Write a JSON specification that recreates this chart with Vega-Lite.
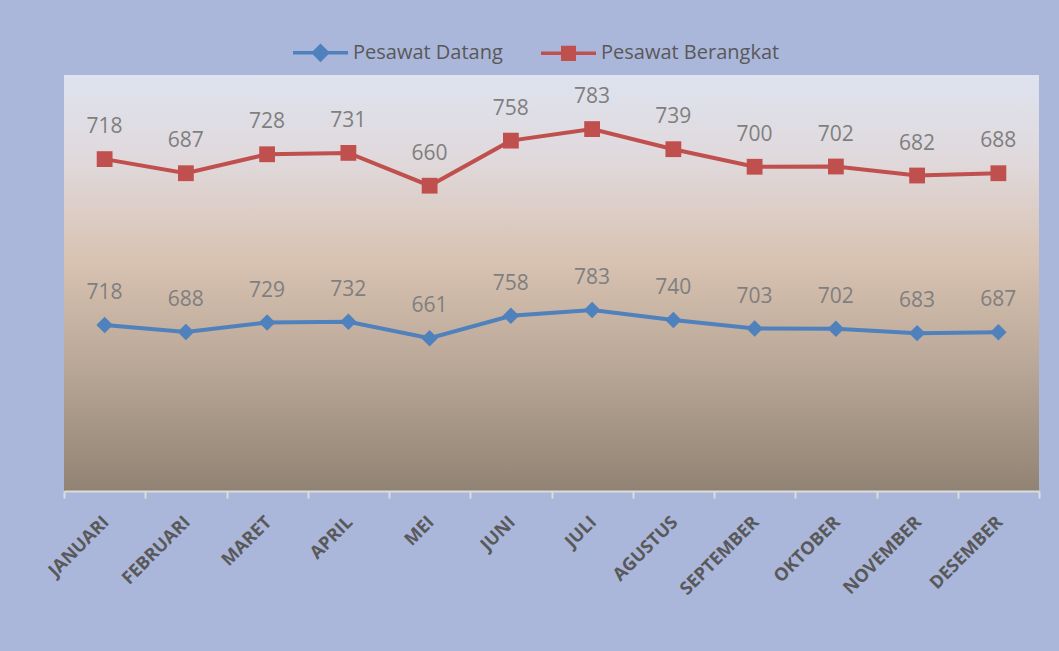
{
  "$schema": "https://vega.github.io/schema/vega-lite/v6.json",
  "autosize": {"type": "none"},
  "width": 975,
  "height": 416,
  "padding": {"left": 64, "top": 75, "right": 21, "bottom": 160},
  "background": "#abb6db",
  "config": {
    "view": {
      "stroke": null,
      "fill": {
        "gradient": "linear", "x1": 0, "y1": 0, "x2": 0, "y2": 1,
        "stops": [
          {"offset": 0, "color": "#dee3ef"},
          {"offset": 0.2, "color": "#e0d9dc"},
          {"offset": 0.45, "color": "#d8c2b1"},
          {"offset": 0.7, "color": "#b9a797"},
          {"offset": 1, "color": "#918373"}
        ]
      }
    },
    "font": "Open Sans"
  },
  "data": {
    "values": [
      {"bulan": "JANUARI", "seri": "Pesawat Datang", "nilai": 718},
      {"bulan": "FEBRUARI", "seri": "Pesawat Datang", "nilai": 688},
      {"bulan": "MARET", "seri": "Pesawat Datang", "nilai": 729},
      {"bulan": "APRIL", "seri": "Pesawat Datang", "nilai": 732},
      {"bulan": "MEI", "seri": "Pesawat Datang", "nilai": 661},
      {"bulan": "JUNI", "seri": "Pesawat Datang", "nilai": 758},
      {"bulan": "JULI", "seri": "Pesawat Datang", "nilai": 783},
      {"bulan": "AGUSTUS", "seri": "Pesawat Datang", "nilai": 740},
      {"bulan": "SEPTEMBER", "seri": "Pesawat Datang", "nilai": 703},
      {"bulan": "OKTOBER", "seri": "Pesawat Datang", "nilai": 702},
      {"bulan": "NOVEMBER", "seri": "Pesawat Datang", "nilai": 683},
      {"bulan": "DESEMBER", "seri": "Pesawat Datang", "nilai": 687},
      {"bulan": "JANUARI", "seri": "Pesawat Berangkat", "nilai": 718},
      {"bulan": "FEBRUARI", "seri": "Pesawat Berangkat", "nilai": 687},
      {"bulan": "MARET", "seri": "Pesawat Berangkat", "nilai": 728},
      {"bulan": "APRIL", "seri": "Pesawat Berangkat", "nilai": 731},
      {"bulan": "MEI", "seri": "Pesawat Berangkat", "nilai": 660},
      {"bulan": "JUNI", "seri": "Pesawat Berangkat", "nilai": 758},
      {"bulan": "JULI", "seri": "Pesawat Berangkat", "nilai": 783},
      {"bulan": "AGUSTUS", "seri": "Pesawat Berangkat", "nilai": 739},
      {"bulan": "SEPTEMBER", "seri": "Pesawat Berangkat", "nilai": 700},
      {"bulan": "OKTOBER", "seri": "Pesawat Berangkat", "nilai": 702},
      {"bulan": "NOVEMBER", "seri": "Pesawat Berangkat", "nilai": 682},
      {"bulan": "DESEMBER", "seri": "Pesawat Berangkat", "nilai": 688}
    ]
  },
  "transform": [
    {"stack": "nilai", "groupby": ["bulan"], "sort": [{"field": "seri", "order": "descending"}], "as": ["y0", "y1"]}
  ],
  "encoding": {
    "x": {
      "field": "bulan", "type": "ordinal",
      "sort": ["JANUARI", "FEBRUARI", "MARET", "APRIL", "MEI", "JUNI", "JULI", "AGUSTUS", "SEPTEMBER", "OKTOBER", "NOVEMBER", "DESEMBER"],
      "scale": {"type": "band", "paddingInner": 0, "paddingOuter": 0},
      "axis": {
        "title": null, "labelAngle": -45, "tickBand": "extent",
        "labelFont": "Open Sans", "labelFontWeight": "bold", "labelFontSize": 18, "labelColor": "#595959",
        "domainColor": "#dcdcdc", "domainWidth": 2, "tickColor": "#dcdcdc", "tickWidth": 2, "tickSize": 7,
        "labelPadding": 15, "labelOffset": -5, "grid": false
      }
    },
    "y": {
      "field": "y1", "type": "quantitative",
      "scale": {"domain": [0, 1800], "nice": false},
      "axis": null
    },
    "color": {
      "field": "seri", "type": "nominal",
      "scale": {"domain": ["Pesawat Datang", "Pesawat Berangkat"], "range": ["#4f81bd", "#c0504d"]},
      "legend": {
        "orient": "none", "legendX": 227, "legendY": -52, "direction": "horizontal",
        "title": null, "labelFont": "Open Sans", "labelFontSize": 20, "labelColor": "#595959", "labelLimit": 400,
        "symbolSize": 3025, "columnPadding": 31, "padding": 0, "labelOffset": 3,
        "encode": {
          "symbols": {
            "enter": {
              "shape": {"signal": "datum.value == 'Pesawat Datang' ? 'M-1,0H1M0,-0.25L0.25,0L0,0.25L-0.25,0Z' : 'M-1,0H1M-0.21,-0.21H0.21V0.21H-0.21Z'"}
            },
            "update": {
              "shape": {"signal": "datum.value == 'Pesawat Datang' ? 'M-1,0H1M0,-0.25L0.25,0L0,0.25L-0.25,0Z' : 'M-1,0H1M-0.21,-0.21H0.21V0.21H-0.21Z'"},
              "fill": {"signal": "datum.value == 'Pesawat Datang' ? '#4f81bd' : '#c0504d'"},
              "stroke": {"signal": "datum.value == 'Pesawat Datang' ? '#4f81bd' : '#c0504d'"},
              "strokeWidth": {"value": 3.5},
              "opacity": {"value": 1},
              "fillOpacity": {"value": 1},
              "strokeOpacity": {"value": 1}
            }
          }
        }
      }
    }
  },
  "layer": [
    {"mark": {"type": "line", "strokeWidth": 4}},
    {
      "transform": [{"filter": "datum.seri == 'Pesawat Datang'"}],
      "mark": {"type": "point", "shape": "diamond", "filled": true, "opacity": 1, "size": 270, "strokeWidth": 0}
    },
    {
      "transform": [{"filter": "datum.seri == 'Pesawat Berangkat'"}],
      "mark": {"type": "point", "shape": "square", "filled": true, "opacity": 1, "size": 250, "strokeWidth": 0}
    },
    {
      "mark": {"type": "text", "dy": -26, "baseline": "alphabetic", "align": "center", "font": "Open Sans", "fontSize": 21, "color": "#7f7f7f"},
      "encoding": {
        "text": {"field": "nilai", "type": "quantitative"},
        "color": {"value": "#7f7f7f"}
      }
    }
  ]
}
